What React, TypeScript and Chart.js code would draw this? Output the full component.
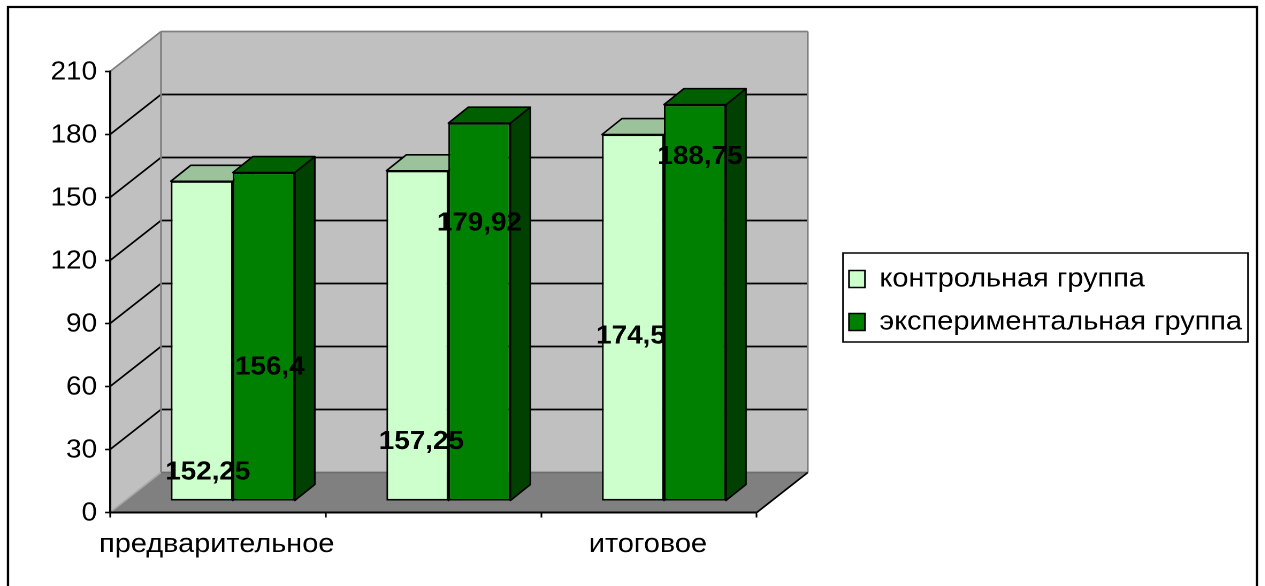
import React, { useEffect, useRef } from "react";
import { Chart, registerables } from "chart.js";

Chart.register(...registerables);

// Chart content
const categories = ["предварительное", "", "итоговое"];
const controlGroup = [152.25, 157.25, 174.5];
const experimentalGroup = [156.4, 179.92, 188.75];
const seriesNames = ["контрольная группа", "экспериментальная группа"];
const valueTicks = { min: 0, max: 210, step: 30 };

// Decimal-comma labels, in series order
const valueLabels = [
  ["152,25", "157,25", "174,5"],
  ["156,4", "179,92", "188,75"],
];
// Label centres relative to the top centre of their bar, in screen pixels
const labelShifts = [
  [[6, 291], [4, 271], [-2, 202]],
  [[6, 195], [0, 100], [5, 52]],
];

// The whole drawing is widened horizontally by this factor
const STRETCH = 1.07;
const W = 1265;
const H = 586;
const sx = (px: number) => px / STRETCH;

// Screen geometry of the pseudo-3D box
const AXIS_LEFT = 110;
const AXIS_RIGHT = 757;
const AXIS_TOP = 71.5;
const AXIS_BOTTOM = 512.5;
const WALL_DX = 51;
const WALL_DY = -40;
const BAR_DX = 15;
const BAR_DY = -11.5;
const BAR_DEPTH_DX = 20;
const BAR_DEPTH_DY = -16;

const FONT = "'Liberation Sans', Arial, sans-serif";
const DIGIT_SIZE = 26;
const TEXT_SIZE = 27;
const LEGEND_PADDING = 16;

const COLORS = {
  wall: "#c0c0c0",
  floor: "#808080",
  edge: "#808080",
  light: "#ccffcc",
  lightTop: "#9cc29c",
  lightSide: "#7fa87f",
  dark: "#008000",
  darkTop: "#006000",
  darkSide: "#004000",
};

const poly = (ctx: CanvasRenderingContext2D, pts: number[][], fill?: string, stroke?: string, lw = 1.6) => {
  ctx.beginPath();
  pts.forEach(([x, y], i) => (i ? ctx.lineTo(x, y) : ctx.moveTo(x, y)));
  ctx.closePath();
  if (fill) {
    ctx.fillStyle = fill;
    ctx.fill();
  }
  if (stroke) {
    ctx.strokeStyle = stroke;
    ctx.lineWidth = lw;
    ctx.lineJoin = "round";
    ctx.stroke();
  }
};

const line = (ctx: CanvasRenderingContext2D, x1: number, y1: number, x2: number, y2: number, color: string, lw: number) => {
  ctx.beginPath();
  ctx.moveTo(x1, y1);
  ctx.lineTo(x2, y2);
  ctx.strokeStyle = color;
  ctx.lineWidth = lw;
  ctx.stroke();
};

// Outer frame, walls, floor and wall grid
const boxPlugin = {
  id: "box3d",
  // The legend floats beside the plot
  afterLayout(chart: any) {
    const lg = chart.legend;
    lg.left = sx(849) - LEGEND_PADDING;
    lg.right = sx(1245);
    lg.top = 249.5;
    lg.bottom = H;
  },
  beforeDraw(chart: any) {
    const { ctx, scales } = chart;
    const yS = scales.y;
    const l = chart.chartArea.left;
    const r = chart.chartArea.right;
    const wdx = sx(WALL_DX);
    const b = yS.getPixelForValue(valueTicks.min);
    const t = yS.getPixelForValue(valueTicks.max);
    ctx.save();

    // Frame: its lower edge lies past the bottom of the page
    ctx.strokeStyle = "#000";
    ctx.lineWidth = 2.2;
    ctx.strokeRect(sx(8), 7, sx(1257 - 8), H + 20);

    poly(ctx, [[l, b], [l + wdx, b + WALL_DY], [l + wdx, t + WALL_DY], [l, t]], COLORS.wall);
    poly(ctx, [[l + wdx, b + WALL_DY], [r + wdx, b + WALL_DY], [r + wdx, t + WALL_DY], [l + wdx, t + WALL_DY]], COLORS.wall);
    poly(ctx, [[l, b], [r, b], [r + wdx, b + WALL_DY], [l + wdx, b + WALL_DY]], COLORS.floor);

    for (let v = valueTicks.min + valueTicks.step; v < valueTicks.max; v += valueTicks.step) {
      const y = yS.getPixelForValue(v);
      line(ctx, l, y, l + wdx, y + WALL_DY, "#000", 1.7);
      line(ctx, l + wdx, y + WALL_DY, r + wdx, y + WALL_DY, "#000", 1.7);
    }

    line(ctx, l, t, l + wdx, t + WALL_DY, COLORS.edge, 1.7);
    line(ctx, l + wdx, t + WALL_DY, r + wdx, t + WALL_DY, COLORS.edge, 1.7);
    line(ctx, l + wdx, t + WALL_DY, l + wdx, b + WALL_DY, COLORS.edge, 1.7);
    line(ctx, r + wdx, t + WALL_DY, r + wdx, b + WALL_DY, COLORS.edge, 1.7);
    line(ctx, l + wdx, b + WALL_DY, r + wdx, b + WALL_DY, "#6e6e6e", 1.7);
    line(ctx, l, b, l + wdx, b + WALL_DY, "#a8a8a8", 1.5);
    line(ctx, r, b, r + wdx, b + WALL_DY, "#000", 1.7);

    // Legend border
    ctx.strokeStyle = "#000";
    ctx.lineWidth = 1.5;
    ctx.strokeRect(sx(843), 253, sx(1248 - 843), 89);
    ctx.restore();
  },
  // Top and side faces of every bar go under all the front faces
  beforeDatasetsDraw(chart: any) {
    const { ctx } = chart;
    const ddx = sx(BAR_DEPTH_DX);
    const shades = [
      [COLORS.lightTop, COLORS.lightSide],
      [COLORS.darkTop, COLORS.darkSide],
    ];
    ctx.save();
    ctx.translate(sx(BAR_DX), BAR_DY);
    [0, 1].forEach((ds) => {
      chart.getDatasetMeta(ds).data.forEach((bar: any) => {
        const x0 = bar.x - bar.width / 2;
        const x1 = bar.x + bar.width / 2;
        const top = bar.y;
        const base = bar.base;
        poly(ctx, [[x1, top], [x1 + ddx, top + BAR_DEPTH_DY], [x1 + ddx, base + BAR_DEPTH_DY], [x1, base]], shades[ds][1], "#000");
        poly(ctx, [[x0, top], [x0 + ddx, top + BAR_DEPTH_DY], [x1 + ddx, top + BAR_DEPTH_DY], [x1, top]], shades[ds][0], "#000");
      });
    });
    ctx.restore();
  },
  beforeDatasetDraw(chart: any) {
    chart.ctx.save();
    chart.ctx.translate(sx(BAR_DX), BAR_DY);
  },
  afterDatasetDraw(chart: any) {
    chart.ctx.restore();
  },
  // Value labels sit above every bar face
  afterDatasetsDraw(chart: any) {
    const { ctx } = chart;
    ctx.save();
    ctx.font = `bold ${DIGIT_SIZE}px ${FONT}`;
    ctx.fillStyle = "#000";
    ctx.textAlign = "center";
    ctx.textBaseline = "middle";
    valueLabels.forEach((labels, ds) => {
      const bars = chart.getDatasetMeta(ds).data;
      labels.forEach((text, i) => {
        const [dx, dy] = labelShifts[ds][i];
        ctx.fillText(text, bars[i].x + sx(BAR_DX + dx), bars[i].y + BAR_DY + dy);
      });
    });
    ctx.restore();
  },
};

export default function App() {
  const ref = useRef<HTMLCanvasElement>(null);

  useEffect(() => {
    const chart = new Chart(ref.current!, {
      type: "bar",
      data: {
        labels: categories,
        datasets: [
          {
            label: seriesNames[0],
            data: controlGroup,
            backgroundColor: COLORS.light,
            borderColor: "#000",
            borderWidth: 1.6,
            borderSkipped: false,
            clip: false,
          },
          {
            label: seriesNames[1],
            data: experimentalGroup,
            backgroundColor: COLORS.dark,
            borderColor: "#000",
            borderWidth: 1.6,
            borderSkipped: false,
            clip: false,
          },
        ],
      } as any,
      options: {
        animation: false,
        responsive: false,
        devicePixelRatio: 2,
        layout: {
          padding: {
            left: 0,
            top: AXIS_TOP,
            right: sx(W - AXIS_RIGHT),
            bottom: 0,
          },
        },
        datasets: { bar: { categoryPercentage: 0.575, barPercentage: 1 } },
        plugins: {
          tooltip: { enabled: false },
          title: { display: false },
          legend: {
            display: true,
            position: "chartArea" as any,
            align: "start",
            labels: {
              color: "#000",
              font: { family: FONT, size: TEXT_SIZE },
              boxWidth: sx(16),
              boxHeight: 17,
              padding: LEGEND_PADDING,
            },
          },
        },
        scales: {
          x: {
            type: "category",
            offset: true,
            afterFit: (s: any) => {
              s.height = H - AXIS_BOTTOM;
            },
            grid: {
              offset: true,
              drawOnChartArea: false,
              drawTicks: true,
              tickLength: 5,
              tickColor: "#000",
              tickWidth: 1.6,
            },
            border: { display: true, color: "#000", width: 2 },
            ticks: {
              color: "#000",
              font: { family: FONT, size: TEXT_SIZE },
              autoSkip: false,
              maxRotation: 0,
              minRotation: 0,
              padding: 11,
              labelOffset: -1,
            },
          },
          y: {
            min: valueTicks.min,
            max: valueTicks.max,
            afterFit: (s: any) => {
              s.width = sx(AXIS_LEFT);
            },
            grid: {
              drawOnChartArea: false,
              drawTicks: true,
              tickLength: sx(5),
              tickColor: "#000",
              tickWidth: 1.6,
            },
            border: { display: true, color: "#000", width: 2 },
            ticks: {
              stepSize: valueTicks.step,
              color: "#000",
              font: { family: FONT, size: DIGIT_SIZE },
              padding: sx(8),
              labelOffset: 1,
            },
          },
        },
      },
      plugins: [boxPlugin],
    } as any);
    return () => chart.destroy();
  }, []);

  return (
    <div style={{ position: "fixed", left: 0, top: 0, width: W, height: H, overflow: "hidden", background: "#fff" }}>
      <canvas
        ref={ref}
        width={W / STRETCH}
        height={H}
        style={{ display: "block", transform: `scaleX(${STRETCH})`, transformOrigin: "0 0" }}
      />
    </div>
  );
}
